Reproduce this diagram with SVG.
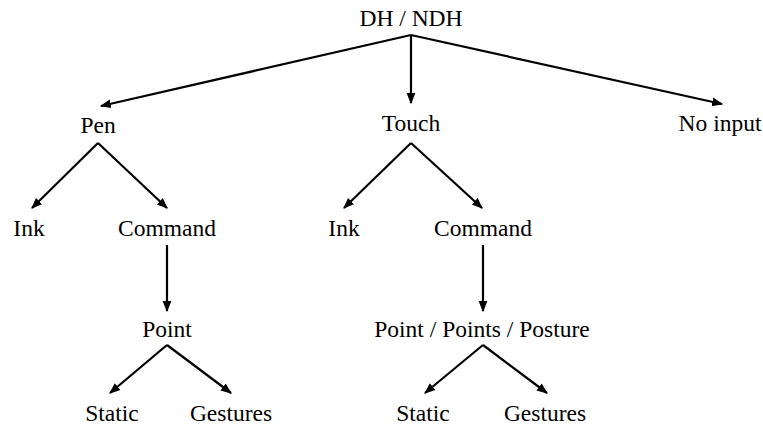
<svg xmlns="http://www.w3.org/2000/svg" width="763" height="425" viewBox="0 0 763 425">
<style>
text{font-family:"Liberation Serif","DejaVu Serif",serif;font-size:23.5px;fill:#000;text-anchor:middle}
.c line{stroke:#000;stroke-width:2.2;fill:none;marker-end:url(#ah)}
</style>
<defs>
<marker id="ah" viewBox="0 0 10 10" refX="9" refY="5" markerWidth="5" markerHeight="5" orient="auto" markerUnits="strokeWidth">
<path d="M0,1 L10,5 L0,9 Z" fill="#000"/>
</marker>
</defs>
<rect width="763" height="425" fill="#fff"/>
<g class="c" id="connectors">
<line x1="411" y1="35" x2="101" y2="106"/>
<line x1="411" y1="35" x2="411" y2="103"/>
<line x1="411" y1="35" x2="722" y2="104"/>
<line x1="98" y1="143" x2="32" y2="208"/>
<line x1="98" y1="143" x2="167" y2="208"/>
<line x1="167" y1="245" x2="167" y2="311"/>
<line x1="167" y1="345" x2="110" y2="393"/>
<line x1="167" y1="345" x2="231" y2="393"/>
<line x1="411" y1="143" x2="344" y2="208"/>
<line x1="411" y1="143" x2="482" y2="208"/>
<line x1="483" y1="245" x2="483" y2="311"/>
<line x1="483" y1="345" x2="425" y2="393"/>
<line x1="483" y1="345" x2="547" y2="393"/>
</g>
<g id="root"><text x="411" y="26">DH / NDH</text></g>
<g id="pen"><text x="98" y="133">Pen</text></g>
<g id="touch"><text x="411" y="131">Touch</text></g>
<g id="noinput"><text x="720" y="131">No input</text></g>
<g id="pen-ink"><text x="29" y="236">Ink</text></g>
<g id="pen-command"><text x="167" y="236">Command</text></g>
<g id="touch-ink"><text x="344" y="236">Ink</text></g>
<g id="touch-command"><text x="483" y="236">Command</text></g>
<g id="pen-point"><text x="167" y="337">Point</text></g>
<g id="touch-point"><text x="482" y="337">Point / Points / Posture</text></g>
<g id="pen-static"><text x="112" y="421">Static</text></g>
<g id="pen-gestures"><text x="231" y="421">Gestures</text></g>
<g id="touch-static"><text x="423" y="421">Static</text></g>
<g id="touch-gestures"><text x="545" y="421">Gestures</text></g>
</svg>
